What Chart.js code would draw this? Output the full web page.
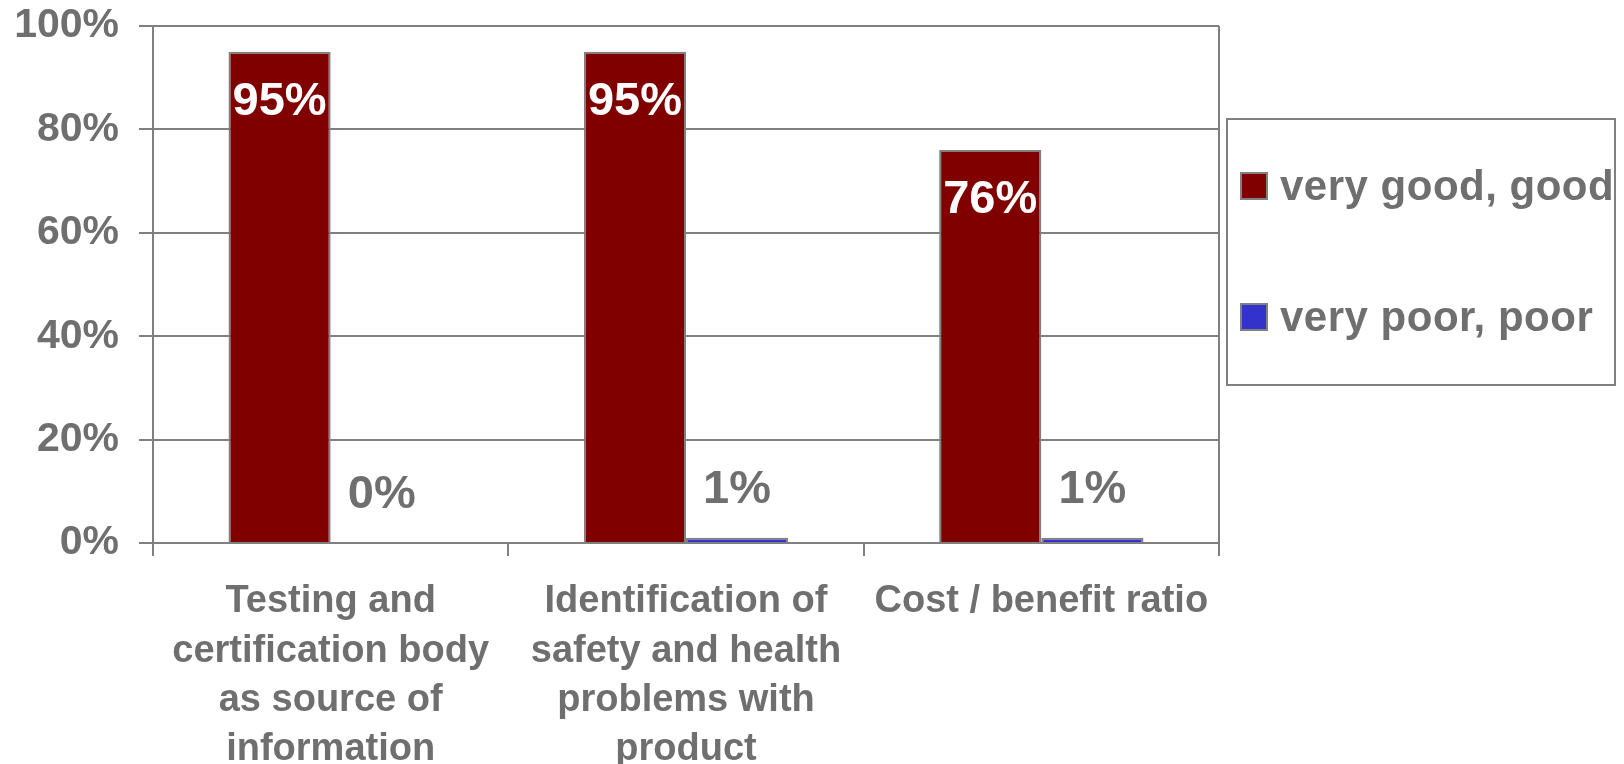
<!DOCTYPE html>
<html>
<head>
<meta charset="utf-8">
<script src="https://cdn.jsdelivr.net/npm/chart.js@4.4.1/dist/chart.umd.min.js"></script>
<style>
	html, body { margin: 0; padding: 0; background: #fff; }
	canvas { display: block; }
</style>
</head>
<body>
<canvas id="rating_bars" width="1624" height="764"></canvas>
<script>
let categories = [
	['Testing and', 'certification body', 'as source of', 'information'],
	['Identification of', 'safety and health', 'problems with', 'product'],
	['Cost / benefit ratio']
];
let seriesNames = ['very good, good', 'very poor, poor'];
let goodValues = [95, 95, 76];
let poorValues = [0, 1, 1];
let yTicks = [0, 20, 40, 60, 80, 100];

let grey = '#808080';
let textGrey = '#6f6f6f';
let fontName = '"Liberation Sans", Arial, sans-serif';

// value labels: white inside the red bars, grey above the blue ones
let valueLabels = {
	id: 'valueLabels',
	afterDatasetsDraw: function(chart){
		let ctx = chart.ctx;
		ctx.save();
		ctx.font = 'bold 47px ' + fontName;
		ctx.textAlign = 'center';
		ctx.textBaseline = 'middle';
		chart.data.datasets.forEach(function(ds, i){
			let meta = chart.getDatasetMeta(i);
			meta.data.forEach(function(bar, j){
				let txt = ds.data[j] + '%';
				if(i == 0){
					ctx.fillStyle = '#ffffff';
					ctx.fillText(txt, bar.x, bar.y + 50);
				} else {
					ctx.fillStyle = textGrey;
					ctx.fillText(txt, bar.x, bar.y - 48);
				}
			});
		});
		ctx.restore();
	}
};

// right edge of the plot frame and the boxed legend
let frameAndLegend = {
	id: 'frameAndLegend',
	afterDraw: function(chart){
		let ctx = chart.ctx;
		let area = chart.chartArea;
		ctx.save();
		ctx.strokeStyle = grey;
		ctx.lineWidth = 2;
		ctx.beginPath();
		ctx.moveTo(area.right, area.top);
		ctx.lineTo(area.right, area.bottom);
		ctx.stroke();

		let boxX = area.right + 8;
		let boxY = area.top + 93;
		let boxW = 388;
		let boxH = 266;
		ctx.strokeRect(boxX, boxY, boxW, boxH);

		ctx.font = 'bold 42px ' + fontName;
		ctx.textAlign = 'left';
		ctx.textBaseline = 'middle';
		if('letterSpacing' in ctx){ ctx.letterSpacing = '0.5px'; }
		chart.data.datasets.forEach(function(ds, i){
			let cy = boxY + 67 + i * 131;
			ctx.fillStyle = ds.backgroundColor;
			ctx.fillRect(boxX + 14, cy - 13, 26, 26);
			ctx.strokeStyle = grey;
			ctx.lineWidth = 2;
			ctx.strokeRect(boxX + 14, cy - 13, 26, 26);
			ctx.fillStyle = textGrey;
			ctx.fillText(ds.label, boxX + 53, cy + 2);
		});
		ctx.restore();
	}
};

window.onload = function(){
	let ctx = document.getElementById('rating_bars').getContext('2d');

	let datasets = [{
		'label': seriesNames[0],
		'data': goodValues,
		'backgroundColor': '#800000',
		'borderColor': grey,
		'borderWidth': 2,
		'categoryPercentage': 0.575,
		'barPercentage': 1.0
	}, {
		'label': seriesNames[1],
		'data': poorValues,
		'backgroundColor': '#3333cc',
		'borderColor': grey,
		'borderWidth': 2,
		'categoryPercentage': 0.575,
		'barPercentage': 1.0
	}];

	new Chart(ctx, {
		'type': 'bar',
		'data': {'labels': categories, 'datasets': datasets},
		'plugins': [valueLabels, frameAndLegend],
		'options': {
			'responsive': false,
			'animation': false,
			'devicePixelRatio': 1,
			'layout': {'padding': {'left': 0, 'top': 26, 'right': 405, 'bottom': 0}},
			'plugins': {'legend': {'display': false}, 'tooltip': {'enabled': false}},
			'scales': {
				'x': {
					'afterFit': function(s){
						s.height = 221;
						s.paddingLeft = 0;
						s.paddingRight = 0;
					},
					'grid': {'drawOnChartArea': false, 'drawTicks': true, 'tickLength': 13, 'color': grey, 'lineWidth': 2},
					'border': {'color': grey, 'width': 2},
					'ticks': {
						'color': textGrey,
						'font': {'family': fontName, 'size': 38, 'weight': 'bold', 'lineHeight': 1.3},
						'padding': 21,
						'maxRotation': 0,
						'autoSkip': false
					}
				},
				'y': {
					'min': 0,
					'max': 100,
					'afterFit': function(s){
						s.width = 153;
						s.paddingTop = 0;
						s.paddingBottom = 0;
					},
					'afterBuildTicks': function(s){ s.ticks = yTicks.map(function(v){ return {'value': v}; }); },
					'grid': {'color': grey, 'lineWidth': 2, 'tickLength': 14},
					'border': {'color': grey, 'width': 2},
					'ticks': {
						'color': textGrey,
						'font': {'family': fontName, 'size': 41, 'weight': 'bold'},
						'padding': 20,
						'callback': function(v){ return v + '%'; }
					}
				}
			}
		}
	});
};
</script>
</body>
</html>
